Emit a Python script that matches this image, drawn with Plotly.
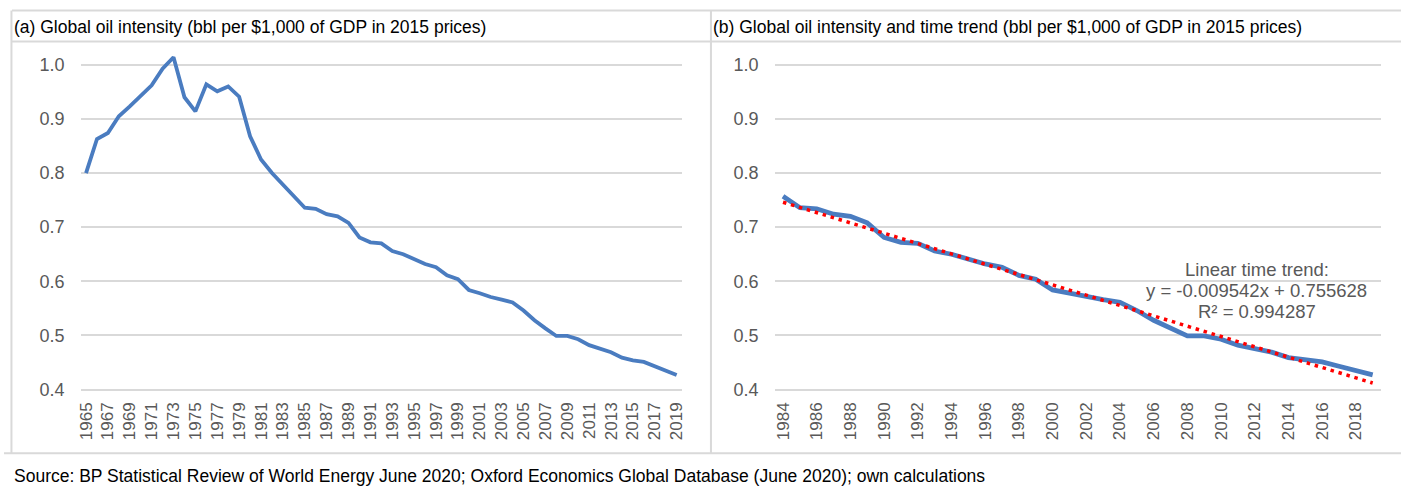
import plotly.graph_objects as go

# ---- data ----
years = list(range(1965, 2020))
oil_intensity = [
    0.800, 0.863, 0.874, 0.905, 0.923, 0.943, 0.962, 0.993, 1.014, 0.940,
    0.914, 0.964, 0.951, 0.960, 0.941, 0.868, 0.825, 0.800, 0.779, 0.757,
    0.736, 0.734, 0.724, 0.720, 0.708, 0.681, 0.672, 0.670, 0.656, 0.650,
    0.641, 0.632, 0.626, 0.611, 0.604, 0.584, 0.578, 0.571, 0.566, 0.561,
    0.546, 0.528, 0.513, 0.499, 0.499, 0.493, 0.482, 0.475, 0.469, 0.459,
    0.454, 0.451, 0.443, 0.435, 0.427,
]
trend_start_year = 1984
trend_slope = -0.009542
trend_intercept = 0.755628
trend_r2 = 0.994287

title_a = "(a) Global oil intensity (bbl per $1,000 of GDP in 2015 prices)"
title_b = "(b) Global oil intensity and time trend (bbl per $1,000 of GDP in 2015 prices)"
source_text = ("Source: BP Statistical Review of World Energy June 2020; Oxford Economics "
               "Global Database (June 2020); own calculations")
trend_lines = [
    "Linear time trend:",
    "y = %.6fx + %.6f" % (trend_slope, trend_intercept),
    "R² = %.6f" % trend_r2,
]

# ---- derived ----
sub_years = [y for y in years if y >= trend_start_year]
sub_vals = [v for y, v in zip(years, oil_intensity) if y >= trend_start_year]
n_sub = len(sub_years)
trend_x = [sub_years[0], sub_years[-1]]
trend_y = [trend_slope * 1 + trend_intercept, trend_slope * n_sub + trend_intercept]

W, H = 1405, 493
def px(x): return x / W
def py(y): return 1 - y / H

BLUE = "#4A7CC0"
GRID = "#D9D9D9"
TICK = "#595959"
SANS = "Liberation Sans, Arial, sans-serif"
NARROW = "Liberation Sans Narrow, Arial Narrow, Liberation Sans, sans-serif"

fig = go.Figure()
fig.add_trace(go.Scatter(x=years, y=oil_intensity, mode="lines",
                         line=dict(color=BLUE, width=3.8), xaxis="x", yaxis="y",
                         showlegend=False, hoverinfo="x+y"))
fig.add_trace(go.Scatter(x=sub_years, y=sub_vals, mode="lines",
                         line=dict(color=BLUE, width=4.8), xaxis="x2", yaxis="y2",
                         showlegend=False, hoverinfo="x+y"))
fig.add_trace(go.Scatter(x=trend_x, y=trend_y, mode="lines",
                         line=dict(color="#FF0000", width=3.5, dash="3.5px,4.8px"),
                         xaxis="x2", yaxis="y2", showlegend=False, hoverinfo="skip"))

yr = [0.39, 1.04]
ydom = [py(399), py(43.6)]
common_y = dict(range=yr, domain=ydom, tick0=0, dtick=0.1, tickformat=".1f",
                showgrid=True, gridcolor=GRID, gridwidth=1.5, zeroline=False,
                showline=False, ticks="", ticklabelstandoff=15,
                tickfont=dict(family=SANS, size=18, color=TICK), fixedrange=True)
common_x = dict(tickangle=-90, dtick=2, showgrid=False, zeroline=False, showline=False,
                ticks="", ticklabelstandoff=3,
                tickfont=dict(family=SANS, size=17, color=TICK), fixedrange=True)

fig.update_layout(
    width=W, height=H,
    margin=dict(l=0, r=0, t=0, b=0),
    paper_bgcolor="white", plot_bgcolor="white",
    xaxis=dict(domain=[px(77), px(682)], range=[1964.5, 2019.5], tick0=1965,
               anchor="y", **common_x),
    yaxis=dict(anchor="x", **common_y),
    xaxis2=dict(domain=[px(775), px(1385)], range=[1983.5, 2019.5], tick0=1984,
                anchor="y2", **common_x),
    yaxis2=dict(anchor="x2", **common_y),
)

border = dict(color=GRID, width=2)
shapes = [
    dict(type="line", xref="paper", yref="paper", x0=px(8), x1=1, y0=py(10.5), y1=py(10.5), line=border),
    dict(type="line", xref="paper", yref="paper", x0=px(8), x1=1, y0=py(42), y1=py(42), line=border),
    dict(type="line", xref="paper", yref="paper", x0=px(7.5), x1=px(7.5), y0=py(10.5), y1=py(458), line=border),
    dict(type="line", xref="paper", yref="paper", x0=px(711), x1=px(711), y0=py(10.5), y1=py(458), line=border),
    dict(type="line", xref="paper", yref="paper", x0=0, x1=1, y0=py(458), y1=py(458), line=border),
]
fig.update_layout(shapes=shapes)

ann = [
    dict(text=title_a, x=px(8), y=py(27), xanchor="left", yanchor="middle",
         font=dict(family=NARROW, size=17.5, color="#000000")),
    dict(text=title_b, x=px(711), y=py(27), xanchor="left", yanchor="middle",
         font=dict(family=NARROW, size=17.5, color="#000000")),
    dict(text=source_text, x=px(8), y=py(481), xanchor="left", yanchor="middle",
         font=dict(family=NARROW, size=17.5, color="#000000")),
]
for txt, yc in zip(trend_lines, [272, 293.5, 314.5]):
    ann.append(dict(text=txt, x=px(1260), y=py(yc), xanchor="center", yanchor="middle",
                    font=dict(family=SANS, size=18.5, color=TICK)))
for a in ann:
    a.update(xref="paper", yref="paper", showarrow=False)
fig.update_layout(annotations=ann)

fig.write_html("out.html", config={"displayModeBar": False},
               post_script="document.body.style.margin='0';document.body.style.overflow='hidden';")
